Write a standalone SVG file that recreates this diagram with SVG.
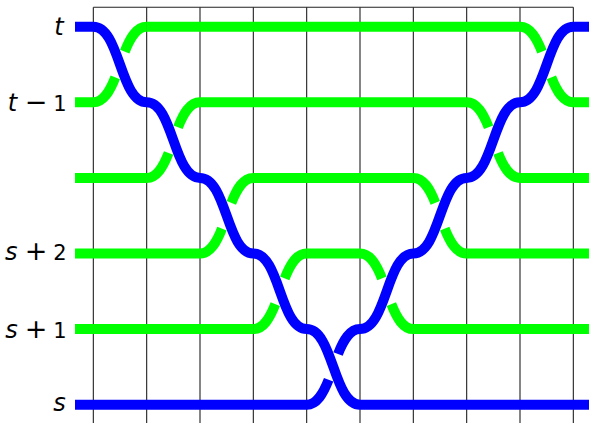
<svg xmlns="http://www.w3.org/2000/svg" width="589" height="423" viewBox="0 0 589 423">
<style>
.grid{stroke:#222;stroke-width:1.1;fill:none}
.g{stroke:#00ff00;stroke-width:10;fill:none;stroke-linecap:butt}
.b{stroke:#0000ff;stroke-width:10;fill:none;stroke-linecap:butt}
.gap{stroke-dasharray:36 28 36}
.lbl{font-family:"DejaVu Sans","Liberation Sans",sans-serif;font-size:21px;fill:#000;text-anchor:middle}
.v{font-style:italic;font-size:24px}
.op{font-size:27px}
</style>
<rect width="589" height="423" fill="#fff"/>
<g id="grid" class="grid">
<path d="M93.33,7.3H573.33"/>
<path d="M93.33,7.3V423M146.67,7.3V423M200,7.3V423M253.33,7.3V423M306.67,7.3V423M360,7.3V423M413.33,7.3V423M466.67,7.3V423M520,7.3V423M573.33,7.3V423"/>
</g>
<g id="labels" class="lbl">
<text y="35"><tspan class="v" x="59">t</tspan></text>
<text y="110.5"><tspan class="v" x="12.5">t</tspan><tspan class="op" x="36">−</tspan><tspan x="60">1</tspan></text>
<text y="259.5"><tspan class="v" x="11.3">s</tspan><tspan class="op" x="36">+</tspan><tspan x="60">2</tspan></text>
<text y="338"><tspan class="v" x="11.5">s</tspan><tspan class="op" x="36">+</tspan><tspan x="60">1</tspan></text>
<text y="411"><tspan class="v" x="59.5">s</tspan></text>
</g>
<g id="connectors">
<g id="green1" class="g">
<path d="M75,102.3H94M146.2,26.7H520.5M572.8,102.3H589"/>
<path class="gap" pathLength="100" d="M93.33,102.3C120,102.3 120,26.7 146.67,26.7"/>
<path class="gap" pathLength="100" d="M520,26.7C546.67,26.7 546.67,102.3 573.33,102.3"/>
</g>
<g id="green2" class="g">
<path d="M75,177.9H147.2M199.5,102.3H467.2M519.5,177.9H589"/>
<path class="gap" pathLength="100" d="M146.67,177.9C173.33,177.9 173.33,102.3 200,102.3"/>
<path class="gap" pathLength="100" d="M466.67,102.3C493.33,102.3 493.33,177.9 520,177.9"/>
</g>
<g id="green3" class="g">
<path d="M75,253.5H200.5M252.8,177.9H413.8M466.2,253.5H589"/>
<path class="gap" pathLength="100" d="M200,253.5C226.67,253.5 226.67,177.9 253.33,177.9"/>
<path class="gap" pathLength="100" d="M413.33,177.9C440,177.9 440,253.5 466.67,253.5"/>
</g>
<g id="green4" class="g">
<path d="M75,329.1H253.8M306.2,253.5H360.5M412.8,329.1H589"/>
<path class="gap" pathLength="100" d="M253.33,329.1C280,329.1 280,253.5 306.67,253.5"/>
<path class="gap" pathLength="100" d="M360,253.5C386.67,253.5 386.67,329.1 413.33,329.1"/>
</g>
<g id="blueB" class="b">
<path d="M75,404.7H307.2"/>
<path class="gap" pathLength="100" d="M306.67,404.7C333.33,404.7 333.33,329.1 360,329.1"/>
<path d="M359.5,329.1H360C386.67,329.1 386.67,253.5 413.33,253.5C440,253.5 440,177.9 466.67,177.9C493.33,177.9 493.33,102.3 520,102.3C546.67,102.3 546.67,26.7 573.33,26.7H589"/>
</g>
<g id="blueA" class="b">
<path d="M75,26.7H93.33C120,26.7 120,102.3 146.67,102.3C173.33,102.3 173.33,177.9 200,177.9C226.67,177.9 226.67,253.5 253.33,253.5C280,253.5 280,329.1 306.67,329.1C333.33,329.1 333.33,404.7 360,404.7H589"/>
</g>
</g>
</svg>
